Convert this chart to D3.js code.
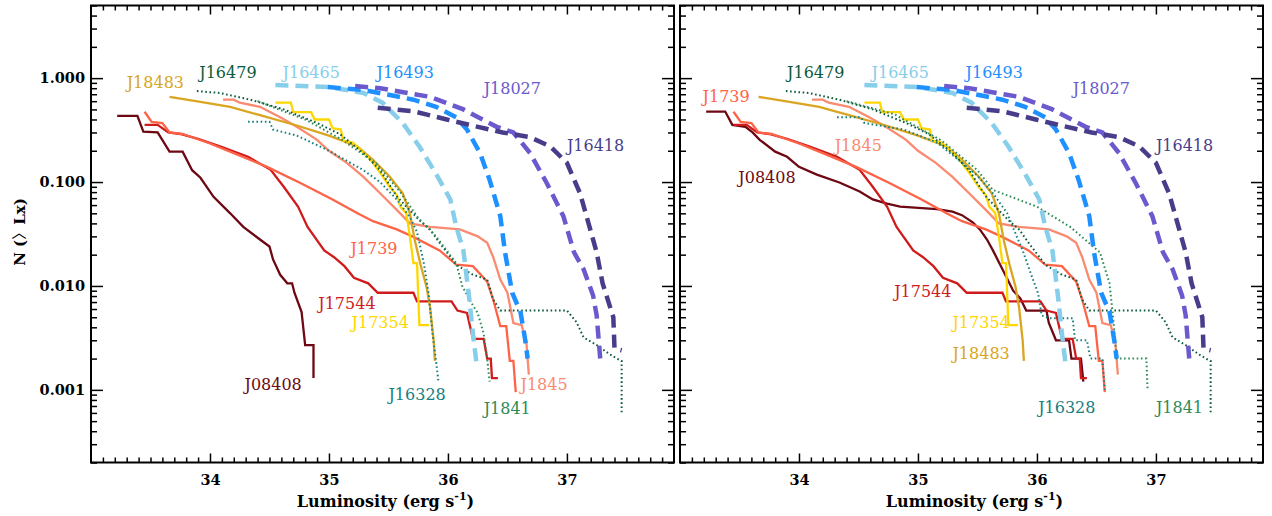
<!DOCTYPE html>
<html>
<head>
<meta charset="utf-8">
<script src="https://cdn.jsdelivr.net/npm/d3@7"></script>
<style>
  body { margin: 0; background: #fff; }
  svg { display: block; }
</style>
</head>
<body>
<svg id="chart" width="1272" height="516"></svg>
<script>
// cumulative luminosity functions, [log Lx, N(>Lx)]
var J08408_a = [[33.22,0.434],[33.39,0.434],[33.44,0.305],[33.56,0.30],[33.66,0.196],[33.77,0.196],[33.85,0.13],[33.92,0.11],[34.03,0.072],[34.17,0.05],[34.28,0.037],[34.42,0.028],[34.5,0.024],[34.53,0.018],[34.59,0.0128],[34.65,0.0106],[34.69,0.0106],[34.71,0.0086],[34.77,0.0056],[34.8,0.0027],[34.87,0.0027],[34.87,0.0013]];
var J08408_b = [[33.22,0.477],[33.38,0.477],[33.44,0.355],[33.55,0.34],[33.61,0.30],[33.67,0.255],[33.8,0.196],[33.9,0.175],[34.0,0.14],[34.15,0.118],[34.34,0.099],[34.51,0.081],[34.62,0.068],[34.74,0.062],[34.85,0.058],[35.16,0.055],[35.29,0.052],[35.37,0.048],[35.46,0.041],[35.52,0.035],[35.58,0.028],[35.63,0.022],[35.71,0.0145],[35.8,0.009],[35.86,0.0076],[35.91,0.0058],[36.08,0.0058],[36.1,0.0044],[36.16,0.003],[36.27,0.003],[36.29,0.002],[36.37,0.002],[36.39,0.0012]];
var J17544 = [[33.45,0.355],[33.56,0.355],[33.65,0.30],[33.75,0.29],[33.9,0.26],[34.09,0.22],[34.32,0.175],[34.51,0.131],[34.62,0.09],[34.74,0.058],[34.82,0.037],[34.96,0.022],[35.04,0.019],[35.13,0.0155],[35.21,0.012],[35.33,0.0106],[35.41,0.0086],[35.71,0.0086],[35.74,0.0071],[36.03,0.0071],[36.08,0.0058],[36.16,0.0055],[36.21,0.0031],[36.3,0.0031],[36.33,0.002],[36.36,0.002],[36.37,0.0013],[36.42,0.0013]];
var J1739 = [[33.45,0.475],[33.51,0.38],[33.6,0.37],[33.66,0.30],[33.77,0.29],[33.85,0.27],[34.0,0.235],[34.2,0.19],[34.48,0.14],[34.76,0.098],[35.03,0.068],[35.24,0.05],[35.37,0.042],[35.57,0.035],[35.7,0.03],[35.93,0.022],[36.07,0.016],[36.21,0.0155],[36.33,0.011],[36.38,0.0074],[36.44,0.0041],[36.49,0.0041],[36.52,0.0019],[36.55,0.0019],[36.57,0.00095]];
var J1845 = [[34.11,0.62],[34.2,0.62],[34.25,0.58],[34.42,0.53],[34.59,0.42],[34.73,0.34],[34.9,0.255],[35.0,0.2],[35.15,0.153],[35.29,0.112],[35.43,0.078],[35.57,0.054],[35.68,0.04],[35.85,0.037],[36.1,0.035],[36.25,0.03],[36.33,0.026],[36.38,0.019],[36.44,0.0115],[36.5,0.0086],[36.55,0.0044],[36.62,0.0042],[36.66,0.0028],[36.68,0.0014]];
var J17354 = [[34.55,0.58],[34.68,0.58],[34.7,0.47],[34.85,0.47],[34.88,0.40],[35.0,0.40],[35.03,0.33],[35.1,0.32],[35.12,0.25],[35.2,0.24],[35.35,0.164],[35.43,0.123],[35.51,0.09],[35.57,0.075],[35.6,0.058],[35.65,0.05],[35.68,0.03],[35.71,0.0166],[35.74,0.0166],[35.76,0.0042],[35.84,0.0042]];
var J18483 = [[33.66,0.66],[33.92,0.59],[34.17,0.53],[34.45,0.43],[34.73,0.35],[35.0,0.28],[35.24,0.22],[35.37,0.164],[35.51,0.113],[35.62,0.078],[35.68,0.05],[35.72,0.028],[35.77,0.016],[35.82,0.0098],[35.85,0.0062],[35.88,0.003],[35.89,0.0019]];
var J16479 = [[33.89,0.75],[34.08,0.72],[34.34,0.62],[34.62,0.50],[34.9,0.37],[35.09,0.29],[35.29,0.19],[35.43,0.13],[35.57,0.073],[35.65,0.058],[35.76,0.043],[35.85,0.035],[35.93,0.026],[36.07,0.016],[36.2,0.013],[36.33,0.0115],[36.38,0.0074],[36.44,0.0058],[37.0,0.0058],[37.08,0.0045],[37.14,0.0032],[37.25,0.0027],[37.36,0.0022],[37.42,0.002],[37.46,0.0019],[37.46,0.0006]];
var J16328_a = [[34.32,0.38],[34.5,0.38],[34.53,0.32],[34.73,0.28],[35.0,0.2],[35.29,0.13],[35.43,0.1],[35.57,0.068],[35.68,0.046],[35.74,0.033],[35.8,0.016],[35.84,0.008],[35.87,0.0035],[35.9,0.0019],[35.92,0.0012]];
var J16328_b = [[34.32,0.42],[34.52,0.42],[34.55,0.37],[34.88,0.32],[35.16,0.24],[35.35,0.16],[35.5,0.115],[35.63,0.078],[35.75,0.05],[35.83,0.03],[35.88,0.022],[35.95,0.013],[36.01,0.0085],[36.04,0.0052],[36.1,0.0049],[36.3,0.0049],[36.32,0.003],[36.42,0.003],[36.45,0.002],[36.55,0.002],[36.57,0.001]];
var J1841_a = [[34.4,0.6],[34.8,0.4],[35.1,0.26],[35.4,0.15],[35.6,0.08],[35.75,0.045],[35.9,0.03],[36.07,0.0166],[36.12,0.01],[36.18,0.0074],[36.25,0.0055],[36.3,0.0035],[36.33,0.002],[36.35,0.0012]];
var J1841_b = [[34.4,0.6],[34.8,0.45],[35.2,0.25],[35.5,0.13],[35.63,0.084],[36.0,0.058],[36.28,0.037],[36.53,0.021],[36.61,0.0106],[36.64,0.005],[36.67,0.002],[36.92,0.002],[36.93,0.001]];
var J16465 = [[34.55,0.86],[35.0,0.82],[35.29,0.72],[35.45,0.58],[35.62,0.37],[35.76,0.22],[35.9,0.12],[36.02,0.068],[36.07,0.037],[36.13,0.022],[36.18,0.0074],[36.21,0.0035],[36.24,0.0018]];
var J16493 = [[34.99,0.82],[35.29,0.77],[35.71,0.62],[35.9,0.53],[36.07,0.42],[36.16,0.32],[36.27,0.19],[36.35,0.105],[36.44,0.047],[36.48,0.021],[36.54,0.0086],[36.61,0.0056],[36.65,0.003],[36.67,0.002]];
var J18027 = [[35.22,0.84],[35.43,0.8],[35.85,0.66],[36.13,0.5],[36.41,0.34],[36.55,0.3],[36.69,0.19],[36.83,0.098],[36.97,0.047],[37.06,0.021],[37.14,0.0145],[37.22,0.0081],[37.25,0.0052],[37.28,0.002],[37.33,0.002]];
var J16418 = [[35.41,0.52],[35.71,0.48],[35.99,0.4],[36.18,0.355],[36.46,0.3],[36.69,0.27],[36.86,0.22],[37.0,0.153],[37.11,0.078],[37.19,0.037],[37.25,0.021],[37.3,0.0106],[37.39,0.005],[37.4,0.0025],[37.46,0.0024]];

var xTicks = [34, 35, 36, 37];
var yTicks = [0.001, 0.01, 0.1, 1];
var yTickLabels = ["0.001", "0.010", "0.100", "1.000"];

// label anchor points [name, log Lx, N]
var labelsLeft = [
  ["J18483", 33.30, 0.807], ["J16479", 33.91, 1.0], ["J16465", 34.61, 1.0], ["J16493", 35.40, 1.0],
  ["J18027", 36.30, 0.706], ["J16418", 37.0, 0.2], ["J1739", 35.18, 0.0205], ["J17544", 34.91, 0.00605],
  ["J17354", 35.19, 0.00397], ["J08408", 34.29, 0.001], ["J16328", 35.50, 0.000807], ["J1841", 36.30, 0.000592],
  ["J1845", 36.61, 0.001]
];
var labelsRight = [
  ["J1739", 33.19, 0.59], ["J16479", 33.90, 1.0], ["J16465", 34.61, 1.0], ["J16493", 35.40, 1.0],
  ["J18027", 36.30, 0.706], ["J16418", 37.0, 0.2], ["J1845", 34.30, 0.2], ["J08408", 33.49, 0.0985],
  ["J17544", 34.80, 0.00789], ["J17354", 35.29, 0.00397], ["J18483", 35.29, 0.002], ["J16328", 36.01, 0.000605],
  ["J1841", 37.0, 0.000605]
];

var colors = {
  J08408: "#6e0812", J17544: "#cf1b1b", J1739: "#ff6347", J1845: "#fa8a70",
  J17354: "#ffd700", J18483: "#daa520", J16479: "#0c5a3c", J16328: "#17807f",
  J1841: "#2e8b57", J16465: "#87ceeb", J16493: "#1e90ff", J18027: "#6a5acd", J16418: "#483d8b"
};
var styles = {
  solid: { w: 2.3, dash: null },
  dot: { w: 2, dash: "1.6,2.6" },
  dash: { w: 4.5, dash: "13,7" }
};

var panels = [
  { x0: 91, labels: labelsLeft, showY: true,
    series: [["J08408", J08408_a, "solid"], ["J17544", J17544, "solid"], ["J1739", J1739, "solid"], ["J1845", J1845, "solid"],
      ["J18483", J18483, "solid"], ["J17354", J17354, "solid"], ["J16479", J16479, "dot"], ["J16328", J16328_a, "dot"],
      ["J1841", J1841_a, "dot"], ["J16465", J16465, "dash"], ["J16493", J16493, "dash"], ["J18027", J18027, "dash"], ["J16418", J16418, "dash"]] },
  { x0: 680, labels: labelsRight, showY: false,
    series: [["J08408", J08408_b, "solid"], ["J17544", J17544, "solid"], ["J1739", J1739, "solid"], ["J1845", J1845, "solid"],
      ["J18483", J18483, "solid"], ["J17354", J17354, "solid"], ["J16479", J16479, "dot"], ["J16328", J16328_b, "dot"],
      ["J1841", J1841_b, "dot"], ["J16465", J16465, "dash"], ["J16493", J16493, "dash"], ["J18027", J18027, "dash"], ["J16418", J16418, "dash"]] }
];

var svg = d3.select("#chart");
var plotW = 583, yTop = 5.5, yBot = 462.5;
var serif = "'DejaVu Serif', serif";

var minorX = d3.range(331, 379).filter(function (d) { return d % 10 !== 0; }).map(function (d) { return d / 10; });
var minorY = [];
[-4, -3, -2, -1, 0].forEach(function (e) {
  for (var m = 2; m <= 9; m++) {
    var v = m * Math.pow(10, e);
    if (v >= 0.0002 && v <= 5) minorY.push(v);
  }
});

panels.forEach(function (p, pi) {
  var x = d3.scaleLinear().domain([33, 37.9]).range([p.x0, p.x0 + plotW]);
  var y = d3.scaleLog().domain([0.0002, 5]).range([yBot, yTop]);

  var g = svg.append("g");
  var clipId = "clip" + pi;
  g.append("clipPath").attr("id", clipId).append("rect")
    .attr("x", p.x0).attr("y", yTop).attr("width", plotW).attr("height", yBot - yTop);

  var line = d3.line().x(function (d) { return x(d[0]); }).y(function (d) { return y(d[1]); });

  var curves = g.append("g").attr("clip-path", "url(#" + clipId + ")");
  p.series.forEach(function (s) {
    var st = styles[s[2]];
    curves.append("path")
      .attr("d", line(s[1]))
      .attr("fill", "none")
      .attr("stroke", colors[s[0]])
      .attr("stroke-width", st.w)
      .attr("stroke-dasharray", st.dash);
  });

  g.selectAll("text.lab").data(p.labels).enter().append("text")
    .attr("class", "lab")
    .attr("x", function (d) { return x(d[1]); })
    .attr("y", function (d) { return y(d[2]); })
    .attr("fill", function (d) { return colors[d[0]]; })
    .style("font-family", serif).style("font-size", "16px")
    .text(function (d) { return d[0]; });

  // axes, ticks pointing inward
  var ax = [
    g.append("g").attr("transform", "translate(0," + yBot + ")")
      .call(d3.axisBottom(x).tickValues(xTicks).tickSize(-9).tickSizeOuter(0).tickPadding(12).tickFormat(d3.format("d"))),
    g.append("g").attr("transform", "translate(0," + yBot + ")")
      .call(d3.axisBottom(x).tickValues(minorX).tickSize(-5).tickSizeOuter(0).tickFormat("")),
    g.append("g").attr("transform", "translate(0," + yTop + ")")
      .call(d3.axisTop(x).tickValues(xTicks).tickSize(-9).tickSizeOuter(0).tickFormat("")),
    g.append("g").attr("transform", "translate(0," + yTop + ")")
      .call(d3.axisTop(x).tickValues(minorX).tickSize(-5).tickSizeOuter(0).tickFormat("")),
    g.append("g").attr("transform", "translate(" + p.x0 + ",0)")
      .call(d3.axisLeft(y).tickValues(yTicks).tickSize(-12).tickSizeOuter(0).tickPadding(6)
        .tickFormat(function (d, i) { return p.showY ? yTickLabels[i] : ""; })),
    g.append("g").attr("transform", "translate(" + p.x0 + ",0)")
      .call(d3.axisLeft(y).tickValues(minorY).tickSize(-6).tickSizeOuter(0).tickFormat("")),
    g.append("g").attr("transform", "translate(" + (p.x0 + plotW) + ",0)")
      .call(d3.axisRight(y).tickValues(yTicks).tickSize(-12).tickSizeOuter(0).tickFormat("")),
    g.append("g").attr("transform", "translate(" + (p.x0 + plotW) + ",0)")
      .call(d3.axisRight(y).tickValues(minorY).tickSize(-6).tickSizeOuter(0).tickFormat(""))
  ];
  ax.forEach(function (a) {
    a.select(".domain").remove();
    a.selectAll(".tick line").attr("stroke", "#000").attr("stroke-width", 1.5);
    a.selectAll(".tick text").attr("fill", "#000")
      .style("font-family", serif).style("font-size", "14.5px").style("font-weight", "bold");
  });

  g.append("rect")
    .attr("x", p.x0).attr("y", yTop).attr("width", plotW).attr("height", yBot - yTop)
    .attr("fill", "none").attr("stroke", "#000").attr("stroke-width", 2);

  var xt = g.append("text")
    .attr("x", p.x0 + plotW / 2 + 3).attr("y", 507)
    .attr("text-anchor", "middle")
    .style("font-family", serif).style("font-size", "16px").style("font-weight", "bold");
  xt.append("tspan").text("Luminosity (erg s");
  xt.append("tspan").attr("dy", -7).style("font-size", "11px").text("-1");
  xt.append("tspan").attr("dy", 7).text(")");

  if (p.showY) {
    var yt = g.append("text")
      .attr("transform", "translate(25," + ((yTop + yBot) / 2 - 2) + ") rotate(-90)")
      .attr("text-anchor", "middle")
      .style("font-family", serif).style("font-size", "15px").style("font-weight", "bold");
    yt.append("tspan").text("N (");
    yt.append("tspan").style("font-family", "'Noto Sans CJK SC', sans-serif").style("font-weight", "normal").text("\u3009");
    yt.append("tspan").text("Lx)");
  }
});
</script>
</body>
</html>
